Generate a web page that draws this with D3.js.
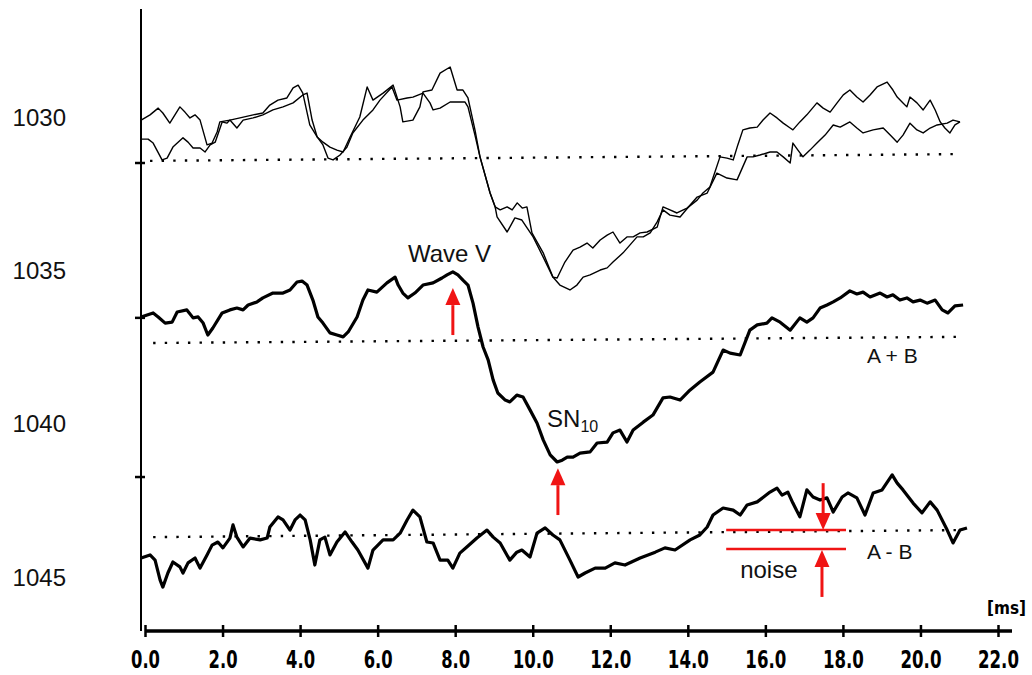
<!DOCTYPE html>
<html>
<head>
<meta charset="utf-8">
<script src="https://cdn.jsdelivr.net/npm/d3@7"></script>
<style>
  body { margin: 0; background: #fff; }
  svg { display: block; }
</style>
</head>
<body>
<div id="chart"></div>
<script>
// x ticks (ms) and left-hand labels
const xTicks = [0, 2, 4, 6, 8, 10, 12, 14, 16, 18, 20, 22];
const yLabels = [1030, 1035, 1040, 1045];
const yTickMarks = [1031.5, 1036.55, 1041.74];

// two single recordings (thin traces), [ms, value]
const traceA = [
  [-0.1, 1030.10], [0.13, 1029.93], [0.34, 1029.71], [0.46, 1029.87], [0.64, 1030.20], [0.90, 1029.67],
  [1.03, 1029.84], [1.16, 1030.03], [1.29, 1029.93], [1.42, 1030.10], [1.60, 1030.91], [1.73, 1030.85],
  [1.86, 1030.49], [1.93, 1030.16], [2.19, 1030.10], [2.45, 1030.03], [2.79, 1029.93], [3.04, 1029.87],
  [3.22, 1029.61], [3.43, 1029.45], [3.66, 1029.38], [3.82, 1029.05], [3.95, 1028.96], [4.07, 1029.22],
  [4.25, 1030.26], [4.44, 1030.65], [4.59, 1030.82], [4.77, 1030.98], [4.95, 1031.08], [5.11, 1031.14],
  [5.29, 1030.65], [5.54, 1030.00], [5.73, 1029.02], [5.88, 1029.45], [6.14, 1029.22], [6.40, 1028.96],
  [6.58, 1029.67], [6.65, 1030.16], [6.91, 1030.10], [7.09, 1029.67], [7.17, 1029.18], [7.40, 1029.12],
  [7.61, 1028.57], [7.87, 1028.37], [8.05, 1029.12], [8.20, 1029.12], [8.33, 1029.38], [8.51, 1030.42],
  [8.64, 1031.30], [8.90, 1032.48], [9.03, 1032.93], [9.16, 1033.03], [9.34, 1032.93], [9.47, 1033.03],
  [9.60, 1032.80], [9.73, 1032.97], [9.85, 1032.93], [9.98, 1033.78], [10.27, 1034.43], [10.52, 1035.22],
  [10.70, 1035.48], [10.96, 1035.64], [11.14, 1035.48], [11.30, 1035.22], [11.48, 1035.15], [11.74, 1034.99],
  [11.92, 1034.92], [12.07, 1034.73], [12.33, 1034.43], [12.51, 1034.17], [12.69, 1033.91], [12.85, 1033.91],
  [13.03, 1033.78], [13.21, 1033.42], [13.36, 1033.03], [13.54, 1033.20], [13.80, 1033.26], [14.06, 1032.87],
  [14.24, 1032.61], [14.50, 1032.48], [14.75, 1031.83], [15.01, 1031.99], [15.27, 1032.05], [15.53, 1031.30],
  [15.68, 1031.30], [15.86, 1031.24], [16.12, 1031.14], [16.30, 1031.14], [16.46, 1031.30], [16.64, 1031.50],
  [16.71, 1030.85], [16.84, 1031.08], [16.97, 1031.30], [17.15, 1031.08], [17.33, 1030.85], [17.54, 1030.59],
  [17.75, 1030.26], [17.93, 1030.33], [18.18, 1030.16], [18.36, 1030.36], [18.52, 1030.52], [18.78, 1030.42],
  [19.04, 1030.36], [19.22, 1030.59], [19.40, 1030.82], [19.55, 1030.59], [19.73, 1030.20], [19.91, 1030.42],
  [20.07, 1030.52], [20.25, 1030.36], [20.43, 1030.26], [20.69, 1030.20], [20.84, 1030.10], [21.02, 1030.16]
];

const traceB = [
  [-0.1, 1030.72], [0.08, 1030.72], [0.21, 1030.85], [0.44, 1031.40], [0.57, 1031.34], [0.72, 1030.98],
  [0.98, 1030.68], [1.11, 1030.82], [1.24, 1031.01], [1.42, 1031.01], [1.55, 1031.14], [1.68, 1030.91],
  [1.81, 1030.82], [1.99, 1030.16], [2.11, 1030.20], [2.19, 1030.10], [2.37, 1030.36], [2.53, 1030.10],
  [2.79, 1030.03], [3.04, 1029.93], [3.30, 1029.77], [3.56, 1029.67], [3.82, 1029.54], [4.07, 1029.28],
  [4.18, 1029.22], [4.31, 1030.10], [4.44, 1030.65], [4.59, 1030.91], [4.72, 1031.34], [4.85, 1031.40],
  [5.03, 1031.24], [5.21, 1030.98], [5.36, 1030.52], [5.62, 1030.10], [5.88, 1029.77], [6.06, 1029.45],
  [6.37, 1029.02], [6.50, 1029.45], [6.76, 1029.38], [6.91, 1029.35], [7.17, 1029.22], [7.35, 1029.54],
  [7.43, 1029.77], [7.61, 1029.71], [7.87, 1029.51], [8.25, 1029.51], [8.33, 1029.67], [8.51, 1030.59],
  [8.64, 1031.30], [8.90, 1032.48], [9.03, 1032.93], [9.08, 1033.26], [9.34, 1033.75], [9.54, 1033.29],
  [9.72, 1033.36], [10.01, 1033.91], [10.27, 1034.57], [10.52, 1035.22], [10.63, 1035.25], [10.83, 1034.73],
  [11.04, 1034.34], [11.22, 1034.24], [11.40, 1034.11], [11.55, 1034.27], [11.74, 1034.01], [11.92, 1033.85],
  [12.07, 1033.75], [12.25, 1034.11], [12.43, 1033.91], [12.59, 1033.91], [12.77, 1033.78], [12.95, 1033.75],
  [13.21, 1033.59], [13.36, 1032.93], [13.54, 1033.03], [13.72, 1033.13], [13.98, 1032.97], [14.24, 1032.71],
  [14.39, 1032.48], [14.57, 1032.28], [14.83, 1031.30], [15.01, 1031.34], [15.17, 1031.40], [15.29, 1030.91],
  [15.42, 1030.42], [15.60, 1030.36], [15.79, 1030.33], [15.94, 1030.10], [16.12, 1029.87], [16.30, 1030.03],
  [16.46, 1030.20], [16.64, 1030.36], [16.71, 1030.42], [16.89, 1030.16], [17.07, 1029.93], [17.33, 1029.54],
  [17.49, 1029.71], [17.67, 1029.84], [17.85, 1029.54], [18.01, 1029.28], [18.18, 1029.12], [18.36, 1029.35],
  [18.52, 1029.51], [18.70, 1029.28], [18.88, 1029.02], [19.14, 1028.86], [19.29, 1029.12], [19.40, 1029.35],
  [19.55, 1029.54], [19.65, 1029.67], [19.73, 1029.35], [19.91, 1029.54], [20.07, 1029.77], [20.25, 1029.45],
  [20.38, 1029.77], [20.51, 1030.16], [20.63, 1030.36], [20.76, 1030.52], [20.89, 1030.26], [21.02, 1030.16]
];

// sum and difference (thick traces)
const traceSum = [
  [-0.1, 1036.52], [0.21, 1036.39], [0.34, 1036.52], [0.52, 1036.72], [0.70, 1036.69], [0.83, 1036.36],
  [1.08, 1036.29], [1.24, 1036.55], [1.37, 1036.52], [1.50, 1036.72], [1.62, 1037.11], [1.75, 1036.88],
  [1.99, 1036.39], [2.19, 1036.29], [2.37, 1036.23], [2.53, 1036.29], [2.66, 1036.13], [2.89, 1036.03],
  [3.04, 1035.90], [3.30, 1035.74], [3.56, 1035.74], [3.74, 1035.64], [3.92, 1035.38], [4.05, 1035.35],
  [4.18, 1035.48], [4.33, 1035.97], [4.46, 1036.52], [4.59, 1036.72], [4.77, 1037.04], [4.95, 1037.11],
  [5.11, 1037.17], [5.24, 1037.01], [5.47, 1036.52], [5.62, 1035.97], [5.75, 1035.64], [5.98, 1035.71],
  [6.24, 1035.41], [6.45, 1035.22], [6.53, 1035.48], [6.65, 1035.74], [6.78, 1035.90], [6.96, 1035.74],
  [7.17, 1035.48], [7.43, 1035.41], [7.66, 1035.25], [7.79, 1035.15], [7.94, 1035.05], [8.07, 1035.15],
  [8.20, 1035.32], [8.33, 1035.48], [8.46, 1036.07], [8.59, 1036.85], [8.72, 1037.50], [8.85, 1037.92],
  [8.98, 1038.58], [9.10, 1039.00], [9.29, 1039.23], [9.41, 1039.29], [9.59, 1039.07], [9.75, 1039.13],
  [9.93, 1039.55], [10.11, 1039.98], [10.27, 1040.53], [10.45, 1041.02], [10.63, 1041.25], [10.76, 1041.19],
  [10.89, 1041.09], [11.04, 1041.09], [11.22, 1040.96], [11.48, 1040.92], [11.66, 1040.63], [11.92, 1040.60],
  [12.07, 1040.30], [12.25, 1040.21], [12.43, 1040.60], [12.59, 1040.21], [12.85, 1039.95], [13.10, 1039.72],
  [13.36, 1039.16], [13.54, 1039.13], [13.80, 1039.23], [14.06, 1038.90], [14.31, 1038.64], [14.65, 1038.32],
  [14.91, 1037.60], [15.09, 1037.70], [15.35, 1037.76], [15.60, 1036.95], [15.79, 1036.78], [16.04, 1036.72],
  [16.17, 1036.55], [16.38, 1036.69], [16.64, 1036.95], [16.89, 1036.55], [17.07, 1036.69], [17.23, 1036.55],
  [17.41, 1036.23], [17.59, 1036.13], [17.75, 1036.03], [17.93, 1035.90], [18.18, 1035.67], [18.36, 1035.77],
  [18.52, 1035.71], [18.70, 1035.87], [18.96, 1035.74], [19.14, 1035.87], [19.29, 1035.80], [19.47, 1035.97],
  [19.65, 1035.90], [19.81, 1036.03], [19.99, 1035.97], [20.17, 1036.07], [20.38, 1035.97], [20.56, 1036.29],
  [20.71, 1036.39], [20.89, 1036.16], [21.10, 1036.13]
];

const traceDiff = [
  [-0.1, 1044.38], [0.13, 1044.28], [0.26, 1044.45], [0.39, 1045.10], [0.46, 1045.33], [0.59, 1044.87],
  [0.72, 1044.51], [0.90, 1044.67], [0.98, 1044.87], [1.11, 1044.54], [1.29, 1044.38], [1.42, 1044.71],
  [1.60, 1044.28], [1.73, 1043.96], [1.88, 1043.86], [2.01, 1044.05], [2.19, 1043.73], [2.27, 1043.30],
  [2.37, 1043.70], [2.53, 1044.02], [2.71, 1043.73], [2.97, 1043.79], [3.15, 1043.73], [3.22, 1043.37],
  [3.43, 1043.04], [3.56, 1043.14], [3.74, 1043.47], [3.87, 1043.14], [4.00, 1042.98], [4.13, 1043.14],
  [4.26, 1043.79], [4.38, 1044.61], [4.51, 1043.79], [4.64, 1043.70], [4.77, 1044.28], [4.95, 1043.86],
  [5.16, 1043.53], [5.34, 1043.86], [5.49, 1044.12], [5.75, 1044.71], [5.88, 1044.12], [6.14, 1043.79],
  [6.40, 1043.79], [6.58, 1043.57], [6.76, 1043.14], [6.91, 1042.82], [7.09, 1043.04], [7.27, 1043.86],
  [7.43, 1043.89], [7.61, 1044.45], [7.81, 1044.45], [7.94, 1044.71], [8.12, 1044.22], [8.30, 1044.02],
  [8.56, 1043.73], [8.82, 1043.47], [8.98, 1043.70], [9.16, 1043.89], [9.41, 1044.45], [9.59, 1044.19],
  [9.72, 1044.12], [9.93, 1044.35], [10.11, 1043.57], [10.32, 1043.40], [10.52, 1043.63], [10.70, 1043.79],
  [10.96, 1044.45], [11.17, 1045.00], [11.35, 1044.87], [11.61, 1044.71], [11.87, 1044.71], [12.12, 1044.54],
  [12.38, 1044.61], [12.77, 1044.38], [13.16, 1044.19], [13.41, 1044.05], [13.67, 1044.12], [14.06, 1043.79],
  [14.31, 1043.63], [14.50, 1043.37], [14.65, 1042.98], [14.91, 1042.75], [15.17, 1042.82], [15.35, 1042.98],
  [15.53, 1042.65], [15.79, 1042.55], [16.12, 1042.23], [16.30, 1042.10], [16.43, 1042.33], [16.58, 1042.23],
  [16.71, 1042.59], [16.89, 1043.04], [17.07, 1042.16], [17.23, 1042.39], [17.41, 1042.49], [17.59, 1042.42],
  [17.75, 1042.88], [17.98, 1042.39], [18.13, 1042.26], [18.36, 1042.42], [18.57, 1042.98], [18.78, 1042.26],
  [19.01, 1042.16], [19.27, 1041.67], [19.40, 1041.94], [19.55, 1042.16], [19.81, 1042.59], [20.04, 1042.91],
  [20.25, 1042.55], [20.43, 1042.82], [20.69, 1043.47], [20.84, 1043.89], [21.02, 1043.47], [21.20, 1043.40]
];

// dotted zero lines, [ms, value] at both ends
const baselines = [
  [[0.13, 1031.43], [20.97, 1031.21]],
  [[0.21, 1037.37], [20.97, 1037.17]],
  [[0.21, 1043.70], [21.02, 1043.47]]
];

// red arrows: [ms, tail value, tip value]
const arrows = [
  [7.94, 1037.11, 1035.58],
  [10.65, 1042.98, 1041.45],
  [17.49, 1041.94, 1043.47],
  [17.46, 1045.65, 1044.12]
];
const noiseLines = [1043.47, 1044.09];
const noiseSpan = [14.99, 18.08];

const width = 1032, height = 675;

const x = d3.scaleLinear().domain([0, 22]).range([145, 998]);
const y = d3.scaleLinear().domain([1030, 1045]).range([117, 577]);
const axisY = 631;

const svg = d3.select("#chart").append("svg")
    .attr("width", width)
    .attr("height", height)
    .attr("viewBox", [0, 0, width, height]);

// vertical axis
svg.append("line")
    .attr("x1", x(0) - 4).attr("x2", x(0) - 4)
    .attr("y1", 9).attr("y2", axisY)
    .attr("stroke", "#000").attr("stroke-width", 2);

svg.append("g")
  .selectAll()
  .data(yTickMarks)
  .join("line")
    .attr("x1", x(0) - 10).attr("x2", x(0))
    .attr("y1", d => y(d)).attr("y2", d => y(d))
    .attr("stroke", "#000").attr("stroke-width", 2.5);

svg.append("g")
  .selectAll()
  .data(yLabels)
  .join("text")
    .attr("x", 66)
    .attr("y", d => y(d))
    .attr("dy", "0.36em")
    .attr("text-anchor", "end")
    .style("font", "24px 'Liberation Sans', Arial, sans-serif")
    .attr("fill", "#111")
    .text(d => d);

// horizontal axis
const tickFont = "'Liberation Sans Narrow', 'DejaVu Sans Condensed', sans-serif";
const xAxis = svg.append("g")
    .attr("transform", `translate(0,${axisY})`)
    .call(d3.axisBottom(x).tickValues(xTicks).tickFormat(d3.format(".1f")).tickSize(6));

xAxis.select(".domain").remove();
xAxis.append("line")
    .attr("x1", x(0)).attr("x2", x(22) + 14)
    .attr("stroke", "#000").attr("stroke-width", 3.5);
xAxis.selectAll(".tick line")
    .attr("y1", -6).attr("y2", 6)
    .attr("stroke-width", 2.5);
xAxis.selectAll(".tick text")
    .attr("y", 37).attr("dy", 0)
    .attr("fill", "#000")
    .attr("textLength", d => d < 10 ? 29 : 41)
    .attr("lengthAdjust", "spacingAndGlyphs")
    .style("font-family", tickFont)
    .style("font-weight", "bold")
    .style("font-size", "25px");

svg.append("text")
    .attr("x", 1026).attr("y", 614)
    .attr("text-anchor", "end")
    .style("font-family", tickFont)
    .style("font-weight", "bold")
    .style("font-size", "17px")
    .text("[ms]");

// dotted baselines
svg.append("g")
  .selectAll()
  .data(baselines)
  .join("line")
    .attr("x1", d => x(d[0][0])).attr("y1", d => y(d[0][1]))
    .attr("x2", d => x(d[1][0])).attr("y2", d => y(d[1][1]))
    .attr("stroke", "#000")
    .attr("stroke-width", 2.4)
    .attr("stroke-dasharray", "2.4 9.2");

// traces
const line = d3.line().x(d => x(d[0])).y(d => y(d[1]));
const traces = [
  {data: traceA, w: 1.4},
  {data: traceB, w: 1.4},
  {data: traceSum, w: 3.2},
  {data: traceDiff, w: 3.2}
];
svg.append("g")
    .attr("fill", "none")
    .attr("stroke", "#000")
    .attr("stroke-linejoin", "round")
  .selectAll()
  .data(traces)
  .join("path")
    .attr("d", d => line(d.data))
    .attr("stroke-width", d => d.w);

// red annotations
const red = "#f01414";
const ann = svg.append("g");

ann.selectAll(".noise")
  .data(noiseLines)
  .join("line")
    .attr("x1", x(noiseSpan[0])).attr("x2", x(noiseSpan[1]))
    .attr("y1", d => y(d)).attr("y2", d => y(d))
    .attr("stroke", red).attr("stroke-width", 2.5);

const headLen = 17, headHalf = 7.5;
arrows.forEach(([t, tail, tip]) => {
  const px = x(t), y0 = y(tail), y1 = y(tip);
  const dir = y1 < y0 ? 1 : -1; // 1 = pointing up
  ann.append("line")
      .attr("x1", px).attr("x2", px)
      .attr("y1", y0).attr("y2", y1 + dir * headLen)
      .attr("stroke", red).attr("stroke-width", 3);
  ann.append("path")
      .attr("d", `M${px},${y1} L${px - headHalf},${y1 + dir * headLen} L${px + headHalf},${y1 + dir * headLen} Z`)
      .attr("fill", red);
});

// text labels
const labelFont = "'Liberation Sans', Arial, sans-serif";
svg.append("text")
    .attr("x", x(6.78)).attr("y", y(1034.73))
    .style("font-family", labelFont).style("font-size", "24px")
    .attr("fill", "#111")
    .text("Wave V");

const sn = svg.append("text")
    .attr("x", x(10.37)).attr("y", y(1040.11))
    .style("font-family", labelFont).style("font-size", "24px")
    .attr("fill", "#111");
sn.append("tspan").text("SN");
sn.append("tspan").attr("dy", 5).style("font-size", "16px").text("10");

svg.append("text")
    .attr("x", x(18.62)).attr("y", y(1038.02))
    .style("font-family", labelFont).style("font-size", "21px")
    .attr("fill", "#111")
    .text("A + B");

svg.append("text")
    .attr("x", x(18.62)).attr("y", y(1044.41))
    .style("font-family", labelFont).style("font-size", "21px")
    .attr("fill", "#111")
    .text("A - B");

svg.append("text")
    .attr("x", x(15.35)).attr("y", y(1045.03))
    .style("font-family", labelFont).style("font-size", "24px")
    .attr("fill", "#111")
    .text("noise");
</script>
</body>
</html>
